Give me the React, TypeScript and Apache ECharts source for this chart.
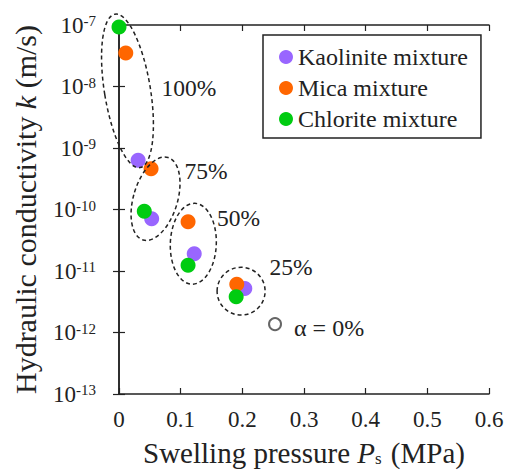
import React, { useEffect, useRef } from "react";
import * as echarts from "echarts";

const kaolinite: [number, number][] = [
  [0.031, 6.3e-10],
  [0.053, 7.1e-11],
  [0.122, 1.9e-11],
  [0.204, 5.2e-12],
];
const mica: [number, number][] = [
  [0.011, 3.5e-8],
  [0.052, 4.6e-10],
  [0.112, 6.3e-11],
  [0.191, 6.1e-12],
];
const chlorite: [number, number][] = [
  [0.0, 9.3e-8],
  [0.041, 9.4e-11],
  [0.112, 1.24e-11],
  [0.19, 3.8e-12],
];
const pure: [number, number][] = [[0.253, 1.37e-12]];

// ellipse groups: [xTop, kTop, xBottom, kBottom]
const groupEllipses: [number, number, number, number][] = [
  [-0.0065, 1.5e-7, 0.034, 4.8e-10],
  [0.0795, 7.0e-10, 0.039, 3.2e-11],
  [0.123, 1.26e-10, 0.118, 6.1e-12],
  [0.198, 1.15e-11, 0.198, 1.92e-12],
];
const ellipseWidths = [46, 44, 46, 48];

const groupLabels = ["100%", "75%", "50%", "25%"];
const groupLabelPos: [number, number][] = [
  [0.1135, 9.5e-9],
  [0.141, 4.3e-10],
  [0.194, 7.4e-11],
  [0.279, 1.15e-11],
];

const xTicks = [0, 0.1, 0.2, 0.3, 0.4, 0.5, 0.6];

const FONT = "Liberation Serif";

export default function App() {
  const ref = useRef<HTMLDivElement>(null);
  useEffect(() => {
    if (!ref.current) return;
    const chart = echarts.init(ref.current, undefined, { renderer: "svg" });
    const axisLine = { show: true, lineStyle: { color: "#222", width: 1.5 } };
    const xBase = {
      type: "value" as const,
      min: 0,
      max: 0.6,
      interval: 0.1,
      splitLine: { show: false },
      axisLine,
      axisTick: { show: true, inside: true, length: 6, lineStyle: { color: "#222", width: 1.2 } },
    };
    const yBase = {
      type: "log" as const,
      logBase: 10,
      min: 1e-13,
      max: 1e-7,
      splitLine: { show: false },
      axisLine,
      axisTick: { show: true, inside: true, length: 6, lineStyle: { color: "#222", width: 1.2 } },
      minorTick: { show: false },
    };
    chart.setOption({
      animation: false,
      grid: { left: 119, right: 19, top: 25, bottom: 77, containLabel: false },
      legend: {
        show: true,
        left: 263,
        top: 35,
        orient: "vertical",
        backgroundColor: "#fff",
        borderColor: "#222",
        borderWidth: 1.5,
        borderRadius: 0,
        padding: [10, 13, 7, 16],
        itemWidth: 14,
        itemHeight: 14,
        itemGap: 7,
        icon: "circle",
        data: ["Kaolinite mixture", "Mica mixture", "Chlorite mixture"],
        textStyle: { fontFamily: FONT, fontSize: 24, color: "#222" },
      },
      xAxis: [
        {
          ...xBase,
          position: "bottom",
          name: "{n|Swelling pressure }{i|P}{sub|s}{n| (MPa)}",
          nameLocation: "middle",
          nameGap: 44,
          nameTextStyle: {
            fontFamily: FONT,
            fontSize: 29,
            rich: {
              n: { fontFamily: FONT, fontSize: 29, color: "#222" },
              i: { fontFamily: FONT, fontSize: 29, fontStyle: "italic", color: "#222" },
              sub: { fontFamily: FONT, fontSize: 17, color: "#222", verticalAlign: "bottom", padding: [0, 2, 0, 0] },
            },
          },
          axisLabel: {
            show: true,
            margin: 14,
            fontFamily: FONT,
            fontSize: 23,
            color: "#222",
            formatter: (v: number) => {
              const t = xTicks.find((x) => Math.abs(x - v) < 1e-9);
              return t === 0 ? "0" : String(t ?? v);
            },
          },
        },
        {
          ...xBase,
          position: "top",
          axisLabel: { show: false },
        },
      ],
      yAxis: [
        {
          ...yBase,
          position: "left",
          name: "{n|Hydraulic conductivity }{i|k}{n| (m/s)}",
          nameLocation: "middle",
          nameGap: 79,
          nameTextStyle: {
            fontFamily: FONT,
            fontSize: 30,
            rich: {
              n: { fontFamily: FONT, fontSize: 30, color: "#222" },
              i: { fontFamily: FONT, fontSize: 30, fontStyle: "italic", color: "#222" },
            },
          },
          axisLabel: {
            show: true,
            margin: 23,
            fontFamily: FONT,
            fontSize: 23,
            formatter: (v: number) => {
              const e = Math.round(Math.log10(v));
              return "{b|10}{s|" + e + "}";
            },
            rich: {
              b: { fontFamily: FONT, fontSize: 23, color: "#222" },
              s: { fontFamily: FONT, fontSize: 15, color: "#222", verticalAlign: "top" },
            },
          },
        },
        {
          ...yBase,
          position: "right",
          axisLabel: { show: false },
        },
      ],
      series: [
        {
          name: "Kaolinite mixture",
          type: "scatter",
          data: kaolinite,
          symbolSize: 15,
          itemStyle: { color: "#9966ff", opacity: 1 },
          z: 3,
        },
        {
          name: "Mica mixture",
          type: "scatter",
          data: mica,
          symbolSize: 15,
          itemStyle: { color: "#ff6600", opacity: 1 },
          z: 4,
        },
        {
          name: "Chlorite mixture",
          type: "scatter",
          data: chlorite,
          symbolSize: 15,
          itemStyle: { color: "#00cc11", opacity: 1 },
          z: 5,
        },
        {
          name: "pure",
          type: "scatter",
          data: pure,
          symbol: "circle",
          symbolSize: 12,
          itemStyle: { color: "#fff", borderColor: "#666", borderWidth: 2, opacity: 1 },
          label: {
            show: true,
            position: "right",
            distance: 12,
            formatter: "α = 0%",
            fontFamily: FONT,
            fontSize: 24,
            color: "#222",
            offset: [0, 4],
          },
          z: 5,
        },
        {
          name: "labels",
          type: "custom",
          clip: false,
          z: 6,
          data: groupLabelPos.map((p, i) => [p[0], p[1], i]),
          renderItem: (params: any, api: any) => {
            const p = api.coord([api.value(0), api.value(1)]);
            return {
              type: "text",
              x: p[0],
              y: p[1],
              style: {
                text: groupLabels[api.value(2)],
                fontFamily: FONT,
                fontSize: 23.5,
                fill: "#222",
                align: "center",
                verticalAlign: "middle",
              },
            };
          },
        },
        {
          name: "ellipses",
          type: "custom",
          clip: false,
          z: 10,
          data: groupEllipses.map((e, i) => [...e, ellipseWidths[i]]),
          renderItem: (params: any, api: any) => {
            const p1 = api.coord([api.value(0), api.value(1)]);
            const p2 = api.coord([api.value(2), api.value(3)]);
            const w = api.value(4);
            const cx = (p1[0] + p2[0]) / 2;
            const cy = (p1[1] + p2[1]) / 2;
            const dx = p2[0] - p1[0];
            const dy = p2[1] - p1[1];
            const len = Math.sqrt(dx * dx + dy * dy);
            const ang = Math.atan2(dx, dy);
            return {
              type: "ellipse",
              x: cx,
              y: cy,
              rotation: ang,
              shape: { cx: 0, cy: 0, rx: w / 2, ry: len / 2 },
              style: { fill: "none", stroke: "#222", lineWidth: 1.5, lineDash: [4, 3] },
            };
          },
        },
      ],
    });
    return () => chart.dispose();
  }, []);
  return <div ref={ref} style={{ width: 508, height: 472, position: "absolute", left: 0, top: 0 }} />;
}
